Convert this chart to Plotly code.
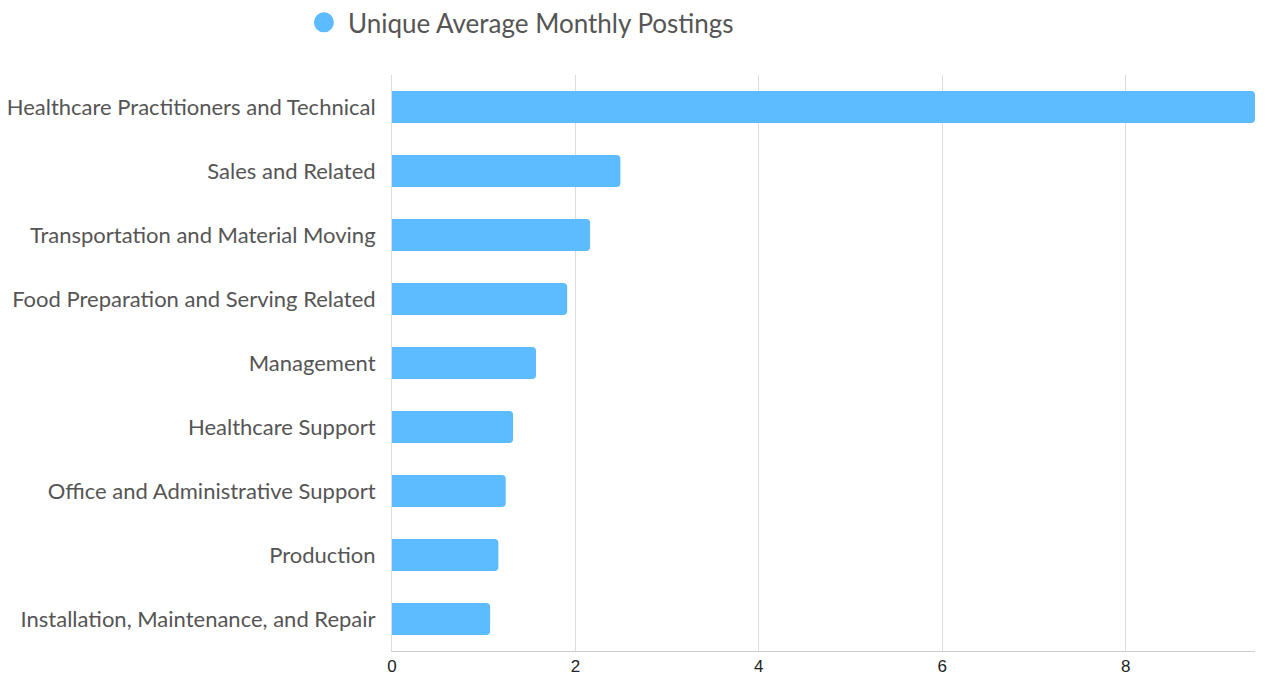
import plotly.graph_objects as go

categories = [
    "Healthcare Practitioners and Technical",
    "Sales and Related",
    "Transportation and Material Moving",
    "Food Preparation and Serving Related",
    "Management",
    "Healthcare Support",
    "Office and Administrative Support",
    "Production",
    "Installation, Maintenance, and Repair",
]
values = [9.41, 2.49, 2.16, 1.91, 1.57, 1.32, 1.24, 1.16, 1.07]
series_name = "Unique Average Monthly Postings"
x_ticks = [0, 2, 4, 6, 8]

color = "#5CBCFF"

fig = go.Figure()
fig.add_trace(go.Bar(
    y=categories, x=values, orientation="h",
    marker=dict(color=color, line=dict(width=0)),
    showlegend=False, name=series_name,
))
fig.add_trace(go.Scatter(
    x=[None], y=[None], mode="markers",
    marker=dict(symbol="circle", size=20, color=color,
                line=dict(color=color, width=4)),
    name=series_name, showlegend=True,
))

fig.update_layout(
    width=1261, height=669,
    margin=dict(l=384, r=14, t=67, b=26, pad=0, autoexpand=False),
    plot_bgcolor="white", paper_bgcolor="white",
    bargap=0.5, barcornerradius=4,
    font=dict(family="Lato", color="#555555"),
    legend=dict(
        orientation="h", xref="paper", yref="paper",
        x=-0.1067, y=1.132, xanchor="left", yanchor="top",
        font=dict(family="Lato", size=26, color="#555555"),
        itemsizing="trace", itemwidth=38, bgcolor="rgba(0,0,0,0)",
    ),
    xaxis=dict(
        range=[0, max(values)], tickvals=x_ticks,
        showgrid=True, gridcolor="#dddddd", gridwidth=1,
        zeroline=False, showline=True, linecolor="#cccccc", linewidth=1,
        tickfont=dict(family="Liberation Sans", size=17, color="#222222"),
        ticks="", fixedrange=True, automargin=False,
    ),
    yaxis=dict(
        categoryorder="array", categoryarray=categories[::-1],
        showgrid=False, zeroline=False, showline=True, linecolor="#dddddd",
        tickfont=dict(family="Lato", size=22, color="#555555"),
        ticks="", ticklabelstandoff=11, automargin=False,
    ),
)

fig.write_html("out.html")
